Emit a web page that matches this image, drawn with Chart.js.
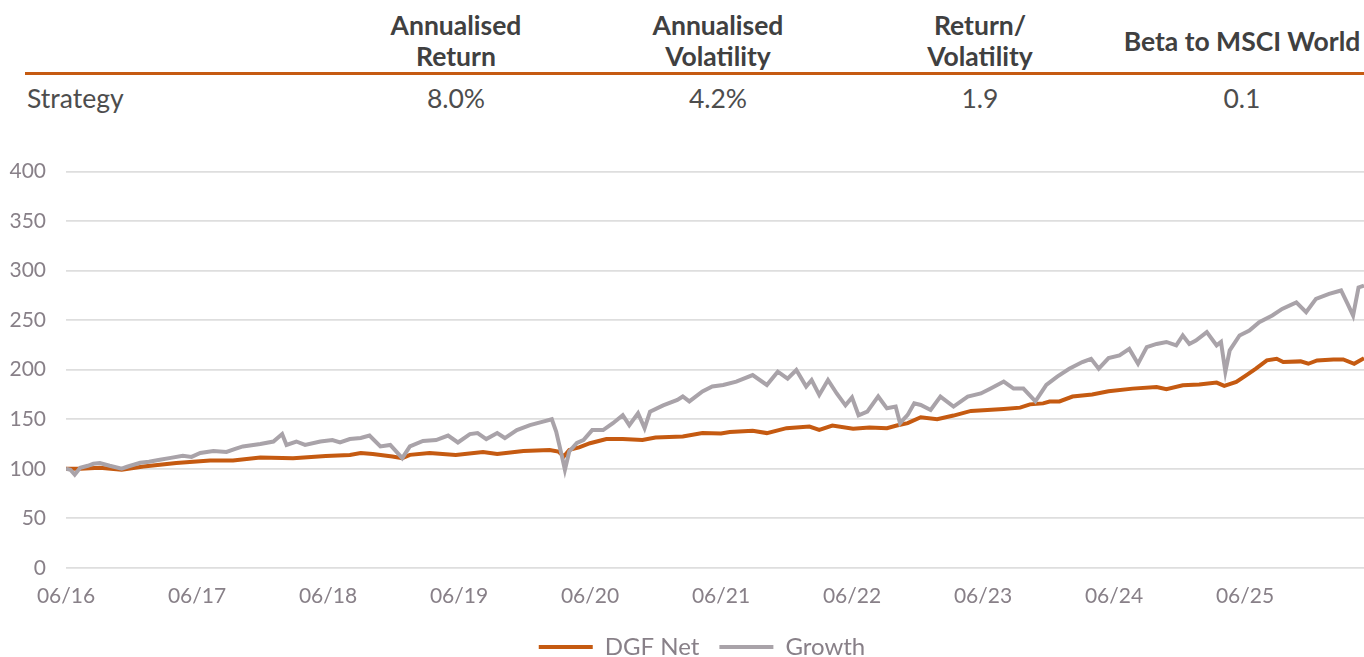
<!DOCTYPE html>
<html>
<head>
<meta charset="utf-8">
<script src="https://cdn.jsdelivr.net/npm/chart.js@4"></script>
<style>
  html, body { margin: 0; padding: 0; overflow: hidden; background: #fff; }
  body { width: 1364px; height: 657px; position: relative; font-family: 'Lato', sans-serif; color: #404040; }
  table.stats { position: absolute; left: 25px; top: 0; width: 1348px; border-collapse: collapse; table-layout: fixed; font-size: 26.5px; line-height: 31px; }
  table.stats th { font-weight: bold; text-align: center; vertical-align: middle; padding: 10px 0 0 0; border-bottom: 3px solid #c55a11; color: #404040; }
  table.stats td { text-align: center; padding: 8px 0 0 0; color: #4d4d4d; }
  table.stats td:first-child { text-align: left; padding-left: 2px; }
  #wrap { position: absolute; left: 0; top: 139px; width: 1364px; height: 530px; }
</style>
</head>
<body>
<table class="stats" id="stats"></table>
<div id="wrap"><canvas id="perfChart"></canvas></div>
<script>
// stats table
const statHeaders = ['Annualised<br>Return', 'Annualised<br>Volatility', 'Return/<br>Volatility', 'Beta to MSCI World'];
const statRowLabel = 'Strategy';
const statValues = ['8.0%', '4.2%', '1.9', '0.1'];

// months since 06/2016, index level (start = 100)
const growthMonths = [0, 0.4, 0.8, 1.3, 2.0, 2.5, 3.1, 4.0, 5.1, 5.6, 6.8, 7.6, 8.6, 9.6, 10.7, 11.5, 12.3, 13.5, 14.7, 15.5,
  16.2, 17.8, 19.0, 19.8, 20.2, 21.1, 21.9, 23.3, 24.4, 25.1, 26.0, 27.0, 27.8, 28.8, 29.7, 30.2, 30.8, 31.5, 32.7, 33.9,
  35.0, 35.9, 37.0, 37.7, 38.5, 39.5, 40.2, 41.3, 42.5, 43.7, 44.5, 44.9, 45.4, 45.7, 46.1, 46.8, 47.4, 48.2, 49.2, 50.1,
  51.0, 51.6, 52.4, 53.0, 53.5, 54.7, 56.0, 56.5, 57.1, 58.3, 59.2, 60.2, 61.4, 62.9, 64.2, 65.2, 66.1, 66.9, 67.8, 68.3,
  69.0, 69.8, 70.6, 71.4, 72.0, 72.6, 73.4, 74.4, 75.2, 76.0, 76.4, 77.1, 77.7, 78.3, 79.2, 80.1, 81.3, 82.6, 83.8, 84.7,
  85.9, 86.8, 87.7, 88.8, 89.8, 90.8, 91.9, 93.1, 93.9, 94.6, 95.5, 96.5, 97.4, 98.2, 99.0, 99.9, 100.8, 101.7, 102.3, 102.9,
  103.5, 104.5, 105.4, 105.8, 106.2, 106.6, 107.5, 108.4, 109.3, 110.5, 111.4, 112.7, 113.6, 114.5, 115.7, 116.8, 117.4, 117.9, 118.4, 118.9];
const growthValues = [100, 99, 94, 101, 103, 105, 105.7, 103, 100, 102, 106, 107, 109, 111, 113, 112, 116, 118, 117, 120,
  122.5, 125, 127.5, 135, 124, 127.5, 124, 127.5, 129, 126.5, 130, 131, 133.5, 122.5, 124, 118, 110.7, 122.5, 128, 129,
  133.5, 126.5, 135, 136, 130, 136, 131, 139, 144, 147.6, 150, 137.6, 114, 99, 117.4, 126, 129, 139, 139, 146,
  154, 144, 156, 141, 157.7, 164, 169.5, 173, 168, 178, 183, 184.6, 188, 194.6, 184.6, 198, 191, 199.7, 183, 189.6,
  174.5, 189.6, 176, 164, 172, 154, 157.7, 173, 161, 162.8, 146, 154.4, 166, 164.4, 159.4, 172.8, 162.8, 172.8, 176, 181,
  188, 181, 181, 168, 184.6, 193, 201, 207.7, 211, 201, 211.7, 214.4, 221, 206, 222.8, 226, 228, 224.5, 234.6, 226,
  229.5, 238, 224.5, 228, 198, 219.5, 234.6, 239.6, 248, 254.7, 261.4, 268, 258, 271.5, 276.5, 280, 266.4, 254.7, 283, 285];

const dgfMonths = [0, 1.3, 3.1, 5.1, 7.1, 10.1, 13.2, 15.3, 17.8, 20.8, 23.8, 26.0, 27.0, 28.1, 29.9, 30.8, 31.5, 33.3, 35.7, 38.2,
  39.5, 41.9, 44.3, 45.1, 45.6, 46.1, 47.0, 48.0, 49.5, 51.0, 52.8, 54.0, 56.5, 58.3, 60.0, 60.8, 62.9, 64.2, 66.0, 68.1,
  69.0, 70.2, 72.1, 73.6, 75.2, 76.1, 77.1, 78.3, 79.8, 81.3, 82.9, 84.4, 85.9, 87.4, 88.3, 89.5, 90.1, 91.0, 92.2, 94.0,
  95.5, 97.7, 99.9, 100.8, 102.3, 103.8, 105.4, 106.1, 107.2, 108.1, 109.0, 110.0, 110.9, 111.5, 113.1, 113.8, 114.6, 116.1, 117.0, 118.0, 118.9];
const dgfValues = [100, 100, 101, 99, 102.3, 105.7, 108.4, 108.4, 111.4, 110.7, 112.8, 114, 115.8, 114.8, 112.4, 110.7, 114, 115.8, 114, 116.8,
  114.8, 118, 119, 117.4, 112.4, 119, 121.5, 125.8, 130, 130, 129, 131.5, 132.5, 136, 135.5, 137, 138.3, 136, 141, 142.6,
  139.3, 143.6, 140.3, 141.6, 141, 143.6, 146, 152, 150, 153.7, 158.4, 159.4, 160.4, 161.7, 165, 166, 167.8, 168, 172.9, 175,
  178.2, 180.9, 182.6, 180.2, 184.2, 185, 187, 183.6, 187.6, 194.3, 201, 209.4, 211, 207.7, 208.4, 206, 209.4, 210.4, 210.4, 206, 211.7];

const orange = '#c55a11';
const grey = '#a9a3a9';
const textGrey = '#888088';

// build table
const table = document.getElementById('stats');
let html = '<colgroup><col style="width:300px">' + statHeaders.map(() => '<col style="width:262px">').join('') + '</colgroup>';
html += '<tr><th></th>' + statHeaders.map(h => `<th>${h}</th>`).join('') + '</tr>';
html += `<tr><td>${statRowLabel}</td>` + statValues.map(v => `<td>${v}</td>`).join('') + '</tr>';
table.innerHTML = html;

const toPoints = (xs, ys) => xs.map((x, i) => ({ x: x, y: ys[i] }));

// legend sits a little right of the canvas centre
const nudgeLegend = {
    id: 'nudgeLegend',
    afterLayout(chart) {
        chart.legend.left += 40;
    }
};

const ctx = document.getElementById('perfChart').getContext('2d');
new Chart(ctx, {
    type: 'line',
    data: {
        datasets: [{
            label: 'DGF Net',
            data: toPoints(dgfMonths, dgfValues),
            borderColor: orange,
            backgroundColor: orange,
            borderWidth: 4,
            pointRadius: 0,
            pointStyle: 'line',
            order: 1
        }, {
            label: 'Growth',
            data: toPoints(growthMonths, growthValues),
            borderColor: grey,
            backgroundColor: grey,
            borderWidth: 4,
            pointRadius: 0,
            pointStyle: 'line',
            order: 0
        }]
    },
    plugins: [nudgeLegend],
    options: {
        responsive: true,
        maintainAspectRatio: false,
        animation: false,
        layout: { padding: { top: 28, right: 0, left: 0, bottom: 0 } },
        plugins: {
            tooltip: { enabled: false },
            legend: {
                position: 'bottom',
                labels: {
                    usePointStyle: true,
                    pointStyleWidth: 54,
                    padding: 20,
                    color: textGrey,
                    font: { family: 'Lato', size: 24 },
                    sort: (a, b) => a.datasetIndex - b.datasetIndex
                }
            }
        },
        scales: {
            x: {
                type: 'linear',
                min: 0,
                max: 118.9,
                afterFit: function(scale) { scale.height -= 2; },
                grid: { display: false },
                border: { display: false },
                ticks: {
                    stepSize: 12,
                    includeBounds: false,
                    maxRotation: 0,
                    padding: 8,
                    color: textGrey,
                    font: { family: 'Lato', size: 21 },
                    callback: function(value) {
                        if (value % 12 !== 0) return '';
                        const yr = 16 + value / 12;
                        return '06/' + yr;
                    }
                }
            },
            y: {
                min: 0,
                max: 400,
                afterFit: function(scale) { scale.width = 66; },
                grid: { color: '#dedede', lineWidth: 1.8, drawTicks: false },
                border: { display: false },
                ticks: {
                    stepSize: 50,
                    padding: 20,
                    color: textGrey,
                    font: { family: 'Lato', size: 21 }
                }
            }
        }
    }
});
</script>
</body>
</html>
